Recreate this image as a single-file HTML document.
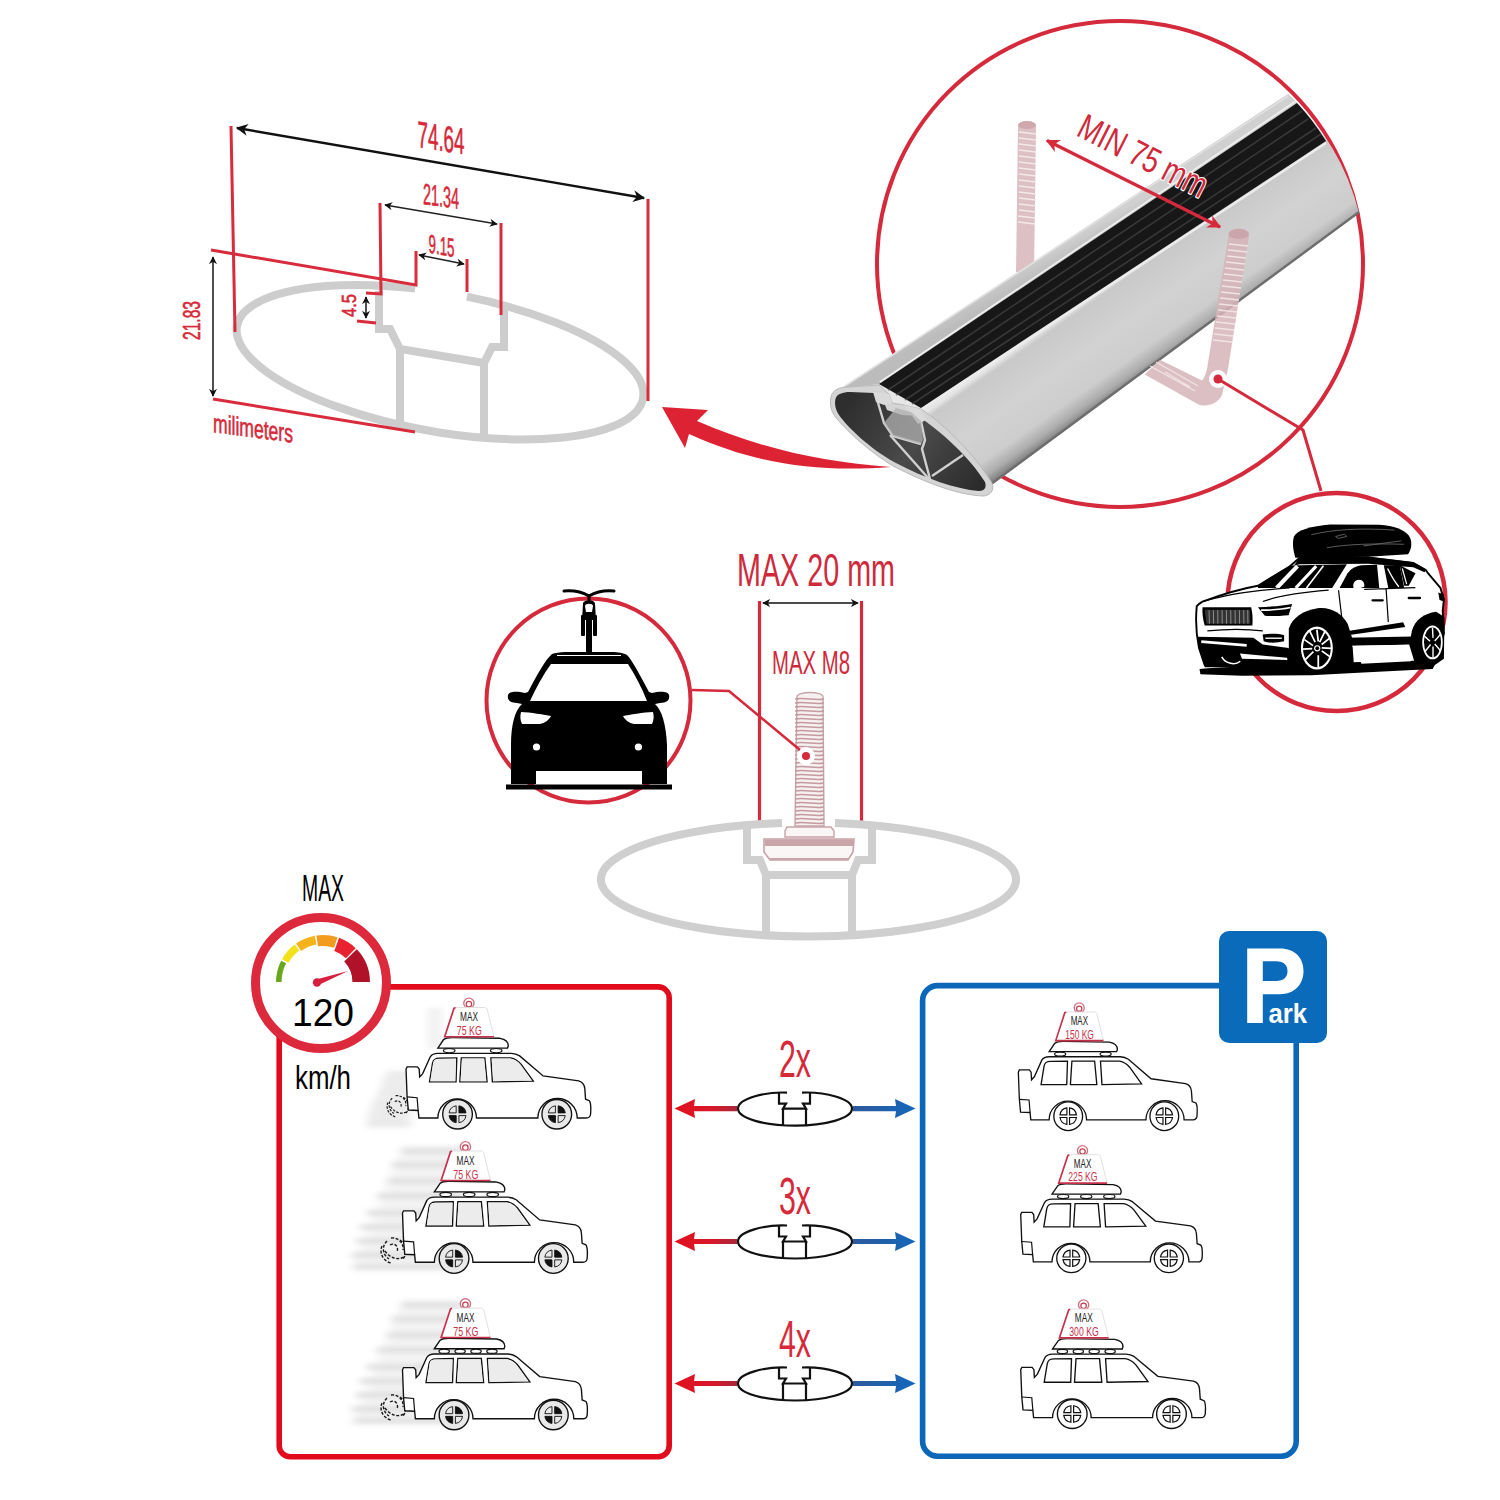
<!DOCTYPE html>
<html><head><meta charset="utf-8">
<style>
html,body{margin:0;padding:0;background:#fff;width:1500px;height:1500px;overflow:hidden}
svg{display:block}
text{font-family:"Liberation Sans",sans-serif}
</style></head>
<body>
<svg width="1500" height="1500" viewBox="0 0 1500 1500">
<defs>
  <marker id="ah" viewBox="0 0 10 10" refX="9" refY="5" markerWidth="5" markerHeight="5" orient="auto-start-reverse">
    <path d="M0,0 L10,5 L0,10 L3,5 z" fill="#111"/>
  </marker>
  <marker id="ahr" viewBox="0 0 10 10" refX="9" refY="5" markerWidth="4" markerHeight="4" orient="auto-start-reverse">
    <path d="M0,0 L10,5 L0,10 L3,5 z" fill="#d62a3a"/>
  </marker>
</defs>
<rect width="1500" height="1500" fill="#fff"/>

<!-- ============ TOP-LEFT CROSS SECTION ============ -->
<g id="xsec">
  <!-- gray profile -->
  <g fill="none" stroke="#cdcdcd" stroke-width="8" stroke-linejoin="miter">
    <path d="M466.9,296.7 A206.2,69.4 10.05 1 1 415.1,288.5"/>
    <path d="M379,291 L379,329 L390,329 L400,349 L484,363 L492,347 L504,347 L504,306"/>
    <path d="M400,349 L400,426 M484,363 L484,439"/>
  </g>
  <!-- red dimension lines -->
  <g fill="none" stroke="#d82c3c" stroke-width="3">
    <path d="M231,126 L235,332"/>
    <path d="M648,199 L648,401"/>
    <path d="M380,203 L381,294 L366,293"/>
    <path d="M501,223 L501,315"/>
    <path d="M211,250 L416,285 L416,251"/>
    <path d="M467,259 L467,292"/>
    <path d="M213,399 L415,432"/>
    <path d="M357,321 L376,323"/>
  </g>
  <g fill="none" stroke="#111" stroke-width="2.4">
    <path d="M237,128 L644,198" marker-start="url(#ah)" marker-end="url(#ah)"/>
  </g>
  <g fill="none" stroke="#222" stroke-width="1.6">
    <path d="M385,205 L497,224" marker-start="url(#ah)" marker-end="url(#ah)"/>
    <path d="M419,255 L464,264" marker-start="url(#ah)" marker-end="url(#ah)"/>
    <path d="M213,257 L213,396" marker-start="url(#ah)" marker-end="url(#ah)"/>
    <path d="M366,297 L366,318" marker-start="url(#ah)" marker-end="url(#ah)"/>
  </g>
  <g fill="#d62a3a" font-size="38" stroke="#d62a3a" stroke-width="0.6">
    <text x="0" y="0" transform="translate(417.5,147) skewY(9)" textLength="47" lengthAdjust="spacingAndGlyphs" font-size="37">74.64</text>
    <text x="0" y="0" transform="translate(423,204) skewY(7.5)" textLength="36" lengthAdjust="spacingAndGlyphs" font-size="29.5">21.34</text>
    <text x="0" y="0" transform="translate(428.5,252.5) skewY(10)" textLength="26" lengthAdjust="spacingAndGlyphs" font-size="26">9.15</text>
    <text x="0" y="0" transform="translate(200,340) rotate(-90)" textLength="39" lengthAdjust="spacingAndGlyphs" font-size="24">21.83</text>
    <text x="0" y="0" transform="translate(356,317) rotate(-90)" textLength="23" lengthAdjust="spacingAndGlyphs" font-size="20">4.5</text>
    <text x="0" y="0" transform="translate(213,432) skewY(7.5)" textLength="80" lengthAdjust="spacingAndGlyphs" font-size="26">milimeters</text>
  </g>

</g>

<!-- ============ RED CURVED ARROW ============ -->
<path d="M662,407 L708,410 L697,421 C760,448 820,462 891,467 C820,472 760,466 689,434 L685,448 Z" fill="#dd2233"/>

<!-- ============ BIG CIRCLE + BAR ============ -->
<circle cx="1120" cy="264" r="243" fill="none" stroke="#d42a3c" stroke-width="4"/>
<defs>
  <linearGradient id="gSide" gradientUnits="userSpaceOnUse" x1="1100" y1="290" x2="1154" y2="367">
    <stop offset="0" stop-color="#e6e6e6"/>
    <stop offset="0.06" stop-color="#c9c9c9"/>
    <stop offset="0.45" stop-color="#d2d2d2"/>
    <stop offset="0.78" stop-color="#cdcdcd"/>
    <stop offset="0.92" stop-color="#acacac"/>
    <stop offset="1" stop-color="#858585"/>
  </linearGradient>
  <linearGradient id="gTop" gradientUnits="userSpaceOnUse" x1="1060" y1="244" x2="1070" y2="262">
    <stop offset="0" stop-color="#d0d0d0"/>
    <stop offset="0.5" stop-color="#c4c4c4"/>
    <stop offset="1" stop-color="#bcbcbc"/>
  </linearGradient>
  <linearGradient id="gFace" gradientUnits="userSpaceOnUse" x1="850" y1="400" x2="980" y2="490">
    <stop offset="0" stop-color="#2e2e2e"/>
    <stop offset="0.5" stop-color="#4a4a4a"/>
    <stop offset="1" stop-color="#2a2a2a"/>
  </linearGradient>
</defs>
<!-- left U-bolt rod (behind bar) -->
<g id="uboltL">
  <path d="M1018,127 C1018,119 1036,119 1036,127 L1034,272 L1016,272 Z" fill="#dcc0c3"/><ellipse cx="1027" cy="125" rx="9" ry="4" fill="#cfa9ad"/>
  <g stroke="#f4e8e9" stroke-width="1.3">
    <path d="M1019,132 L1036,134 M1019,138 L1036,140 M1019,144 L1036,146 M1019,150 L1036,152 M1019,156 L1036,158 M1019,162 L1036,164 M1019,168 L1036,170 M1019,174 L1036,176 M1019,180 L1036,182 M1019,186 L1036,188 M1019,192 L1036,194 M1019,198 L1036,200 M1019,204 L1036,206 M1019,210 L1036,212 M1018,216 L1035,218 M1018,222 L1035,224"/>
  </g>
</g>
<!-- bar body -->
<path d="M842,388 L1288,94 A242,242 0 0 1 1359,213 L985,490 Z" fill="url(#gSide)"/>
<path d="M842,388 L1288,94 A242,242 0 0 1 1297,103 L879,384 Z" fill="url(#gTop)"/>
<path d="M879,384 L1297,103 A242,242 0 0 1 1326,141 L921,408 Z" fill="#171717"/>
<g stroke="#4a4a4a" stroke-width="1.6" fill="none" opacity="0.65">
  <path d="M888,390 L1302,111"/>
  <path d="M896,395 L1308,119"/>
  <path d="M905,400 L1316,128"/>
  <path d="M912,404 L1321,134"/>
</g>
<path d="M880,382 L1296,101" stroke="#efefef" stroke-width="1.6"/>
<path d="M921,410 L1326,143" stroke="#ececec" stroke-width="2.4"/>
<path d="M845,386 L1288,96" stroke="#e2e2e2" stroke-width="1.5"/>
<path d="M987,487 L1359,212" stroke="#6e6e6e" stroke-width="2.4"/>
<!-- end face -->
<path d="M831,397 C832,390 840,387 848,387 L879,385 L889,394 L892,403 L904,405 L921,409 C945,425 975,455 992,483 C995,490 990,496 983,496 C960,495 930,485 893,466 C870,452 845,430 834,415 C830,408 830,402 831,397 Z" fill="#d4d4d4" stroke="#b8b8b8" stroke-width="1"/>
<path d="M835.5,399 C836.5,394 843,392 850,392 L874,393 L883,400 L887,410 L902,415 L918,416 C942,432 970,458 985,482 C987,488 984,491 979,491 C956,489 926,479 894,462 C871,449 849,429 839,415 C835,409 834.5,403 835.5,399 Z" fill="url(#gFace)"/>
<g stroke="#d0d0d0" stroke-width="2.4" fill="none" stroke-linejoin="round">
  <path d="M876,396 L884,423 L893,436 L921,444"/>
  <path d="M921,421 L925,440 L922,449 L930,479"/>
  <path d="M890,435 L929,479"/>
  <path d="M932,476 L963,455"/>
</g>
<path d="M873,392 L889,394 L892,403 L884,405 L876,402 Z" fill="#dadada"/>
<path d="M904,405 L921,409 L926,420 L918,424 Z" fill="#dadada"/>
<path d="M884,423 L893,436 L921,444 L923,440 L921,421 L911,412 L896,408 Z" fill="#b0b0b0" opacity="0.75"/>
<!-- right U-bolt rod (in front) -->
<g id="uboltR">
  <path d="M1249,236 C1249,226 1228.5,226 1228.5,236 L1207,369 C1206,374 1204,378 1202,380.6 L1160,359.8 L1144.7,374.5 L1197.6,404 C1205,408 1218,404 1222,395 L1228,369 Z" fill="#d6b4b8" opacity="0.85"/>
  <ellipse cx="1238.7" cy="234" rx="10.2" ry="5" fill="#c9a3a7" opacity="0.9"/>
  <g stroke="#f4e8e9" stroke-width="1.3" opacity="0.9">
    <path d="M1229,244 L1248,246 M1228,250 L1247,252 M1227,256 L1246,258 M1226,262 L1245,264 M1225,268 L1244,270 M1224,274 L1243,276 M1223,280 L1242,282 M1222,286 L1241,288 M1221,292 L1240,294 M1220,298 L1239,300 M1219,304 L1238,306 M1218,310 L1237,312 M1217,316 L1236,318 M1216,322 L1235,324 M1215,328 L1234,330 M1214,334 L1233,336 M1213,340 L1232,342"/>
    <path d="M1150,366 L1195,391 M1156,362 L1198,386 M1165,372 L1190,387"/>
  </g>
</g>
<!-- dot -->
<circle cx="1218" cy="379" r="9" fill="#fff"/>
<circle cx="1218" cy="379" r="4.5" fill="#d42a3c"/>
<!-- MIN 75 mm -->
<path d="M1047,140.5 L1220,227" stroke="#d42a3c" stroke-width="3.4" marker-start="url(#ahr)" marker-end="url(#ahr)"/>
<text x="0" y="0" transform="translate(1075,135) rotate(27)" font-size="36" fill="#cf2a3b" stroke="#fff" stroke-width="2.5" paint-order="stroke" stroke-linejoin="round" textLength="140" lengthAdjust="spacingAndGlyphs">MIN 75 mm</text>

<!-- ============ SMALL SUV CIRCLE ============ -->
<path d="M1218,379 L1303,430 L1321,491" fill="none" stroke="#d42a3c" stroke-width="3"/>
<circle cx="1336.5" cy="602" r="109" fill="none" stroke="#d42a3c" stroke-width="4.5"/>
<g id="suv" transform="translate(1190,520) scale(0.17333)">
  <!-- body white with outline -->
  <path d="M39,497 C33,560 33,650 52,739 L85,837 L634,850 L1354,837 L1419,817 L1465,654 L1458,523 L1465,458 L1445,392 L1373,307 L1360,288 L1288,248 L1027,216 L634,216 L575,268 L392,379 C300,395 196,425 72,471 C55,480 45,490 39,497 Z" fill="#fff" stroke="#000" stroke-width="11"/>
  <!-- shadow -->
  <path d="M55,860 C250,845 500,835 700,830 L1100,815 L1380,810 L1440,780 L1400,860 L1000,880 L700,895 L300,898 L60,890 Z" fill="#000"/>
  <!-- roof box -->
  <path d="M608,218 C596,180 588,130 600,95 C618,58 700,35 808,26 L1092,28 C1180,33 1232,55 1262,90 C1286,122 1278,170 1258,198 L1027,212 L634,218 Z" fill="#000"/>
  <path d="M700,85 C820,55 980,45 1180,58 M790,160 C900,140 1050,135 1235,140 M840,95 L890,82 L905,95 L855,106 Z M1000,150 L1220,120" fill="none" stroke="#6a6a6a" stroke-width="5"/>
  <!-- rails band -->
  <path d="M600,262 L634,214 L1027,212 L1288,244 L1362,286 L1353,302 L1288,272 L1027,252 L634,256 Z" fill="#000"/>
  <!-- windshield -->
  <path d="M392,379 L432,353 L575,262 L905,255 L820,392 L392,392 Z" fill="#000"/>
  <path d="M500,392 L620,266" stroke="#fff" stroke-width="24"/>
  <path d="M610,392 L728,266" stroke="#fff" stroke-width="18"/>
  <path d="M672,392 L770,264" stroke="#fff" stroke-width="9"/>
  <!-- side windows -->
  <path d="M863,392 L909,307 C930,280 955,265 988,261 L1079,258 L1092,392 Z" fill="#000"/>
  <path d="M945,395 C935,370 950,345 975,345 C998,345 1010,365 1005,385 L960,400 L942,425 L930,420 Z" fill="#fff"/>
  <path d="M1118,261 L1210,261 L1236,392 L1144,392 Z" fill="#000"/>
  <path d="M1140,280 C1160,320 1175,350 1205,385" stroke="#fff" stroke-width="8" fill="none"/>
  <path d="M1210,261 L1301,307 L1262,379 L1236,379 Z" fill="#000"/>
  <path d="M1225,280 L1250,370" stroke="#fff" stroke-width="7"/>
  <!-- door lines / handles -->
  <path d="M857,405 L883,627 M1131,392 L1144,588 M1005,400 L1300,390" stroke="#000" stroke-width="7" fill="none"/>
  <path d="M1053,463 L1112,463 M1262,450 L1327,450" stroke="#000" stroke-width="13" stroke-linecap="round"/>
  <path d="M1432,418 L1465,430 L1465,470 L1440,462 Z" fill="#000"/>
  <!-- grille -->
  <path d="M72,504 L353,504 C362,540 362,580 360,608 L85,608 C75,580 70,540 72,504 Z" fill="#000"/>
  <path d="M85,518 L345,518 L348,598 L95,598 Z" fill="#333"/>
  <g stroke="#9a9a9a" stroke-width="5">
    <path d="M110,520 L112,598 M135,520 L136,598 M160,520 L161,598 M185,520 L186,598 M210,520 L211,598 M235,520 L236,598 M260,520 L261,598 M285,520 L286,598 M310,520 L311,598 M333,520 L334,598"/>
  </g>
  <!-- headlight -->
  <path d="M392,504 C460,500 540,494 589,484 L569,549 C520,553 470,556 432,553 Z" fill="#000"/>
  <path d="M410,520 C480,520 540,514 580,505" stroke="#fff" stroke-width="9" fill="none"/>
  <!-- hood lines -->
  <path d="M72,471 C200,430 380,405 575,392 M420,470 C500,440 620,420 800,405 M100,640 C200,630 320,628 420,640" stroke="#000" stroke-width="7" fill="none"/>
  <!-- fog light -->
  <path d="M419,661 C460,655 510,655 543,665 L543,700 C500,710 450,710 425,700 Z" fill="#000"/>
  <path d="M435,682 L530,682" stroke="#fff" stroke-width="8"/>
  <!-- lower front black -->
  <path d="M39,674 L366,680 L419,719 L569,739 L600,850 L85,850 L52,739 Z" fill="#000"/>
  <path d="M65,702 L327,724" stroke="#fff" stroke-width="16"/>
  <path d="M288,770 L560,795 L562,808 L300,800 Z" fill="#fff"/>
  <path d="M183,790 C205,830 260,840 290,815" stroke="#fff" stroke-width="9" fill="none"/>
  <!-- front wheel arch + wheel -->
  <path d="M570,628 C590,560 654,523 730,510 C808,497 880,540 910,600 L935,680 L945,830 L880,880 L620,885 L570,800 Z" fill="#000"/>
  <ellipse cx="732" cy="739" rx="92" ry="124" fill="#fff"/>
  <ellipse cx="732" cy="739" rx="80" ry="110" fill="#000"/>
  <g stroke="#fff" stroke-width="10">
    <path d="M732,632 L740,700 M660,690 L710,725 M665,805 L712,760 M740,848 L740,780 M810,790 L760,755 M808,680 L760,718 M690,640 L722,705 M780,640 L748,705 M650,745 L705,742 M820,740 L760,738"/>
  </g>
  <circle cx="734" cy="740" r="18" fill="#fff"/><circle cx="734" cy="740" r="11" fill="#000"/>
  <!-- side skirt / underbody -->
  <path d="M912,640 L1230,590 L1242,618 L930,662 Z" fill="#000"/>
  <path d="M896,680 L1288,672 L1288,719 L896,727 Z" fill="#000"/>
  <path d="M935,725 L1275,720 L1275,815 L990,830 Z" fill="#fff"/>
  <!-- rear wheel -->
  <path d="M1280,640 C1300,575 1350,540 1420,530 L1468,560 L1465,800 L1400,845 L1300,835 L1265,720 Z" fill="#000"/>
  <ellipse cx="1399" cy="706" rx="59" ry="98" fill="#fff"/>
  <ellipse cx="1399" cy="706" rx="49" ry="86" fill="#000"/>
  <g stroke="#fff" stroke-width="8">
    <path d="M1399,622 L1402,680 M1352,670 L1385,700 M1355,760 L1388,718 M1402,790 L1402,730 M1446,755 L1412,715 M1445,660 L1412,698"/>
  </g>
</g>


<!-- ============ MIDDLE: BOLT ============ -->
<g id="mid">
  <g fill="#cf2a3b">
    <text x="737" y="586" font-size="46" textLength="158" lengthAdjust="spacingAndGlyphs">MAX 20 mm</text>
    <text x="772" y="674" font-size="34" textLength="78" lengthAdjust="spacingAndGlyphs">MAX M8</text>
  </g>
  <g stroke="#d42a3c" stroke-width="3.2">
    <path d="M759.5,601 L759.5,827 M861.5,601 L861.5,827"/>
  </g>
  <path d="M763,603 L858,603" stroke="#111" stroke-width="1.6" marker-start="url(#ah)" marker-end="url(#ah)"/>
  <!-- ellipse -->
  <g fill="none" stroke="#cfcfcf" stroke-width="8">
    <path d="M835,823 A207.5,57 0 1 1 782,823"/>
    <path d="M747,826 L747,860 L760,860 L766,875 L852,875 L858,860 L872,860 L872,826"/>
    <path d="M766,875 L766,936 M852,875 L852,936"/>
  </g>
  <!-- bolt -->
  <g id="bolt">
    <path d="M797,697 C797,691 823,691 823,697 L824,826 L795,826 Z" fill="#f7f0f0" stroke="#c8a2a6" stroke-width="1.4"/>
    <g stroke="#c29a9f" stroke-width="1.3" fill="none">
      <path id="thr" d="M795,699 C805,697 815,701 824,699"/>
      <use href="#thr" y="4"/><use href="#thr" y="8"/><use href="#thr" y="12"/><use href="#thr" y="16"/><use href="#thr" y="20"/><use href="#thr" y="24"/><use href="#thr" y="28"/><use href="#thr" y="32"/><use href="#thr" y="36"/><use href="#thr" y="40"/><use href="#thr" y="44"/><use href="#thr" y="48"/><use href="#thr" y="52"/><use href="#thr" y="56"/><use href="#thr" y="60"/><use href="#thr" y="64"/><use href="#thr" y="68"/><use href="#thr" y="72"/><use href="#thr" y="76"/><use href="#thr" y="80"/><use href="#thr" y="84"/><use href="#thr" y="88"/><use href="#thr" y="92"/><use href="#thr" y="96"/><use href="#thr" y="100"/><use href="#thr" y="104"/><use href="#thr" y="108"/><use href="#thr" y="112"/><use href="#thr" y="116"/><use href="#thr" y="120"/><use href="#thr" y="124"/>
    </g>
    <path d="M787,827 L831,827 L834,831 L834,837 L785,837 L785,831 Z" fill="#fbf6f6" stroke="#c8a2a6" stroke-width="1.4"/>
    <path d="M764,839 L854,839 L853,852 L848,860 L770,860 L764,852 Z" fill="#fbf6f6" stroke="#c8a2a6" stroke-width="1.6"/>
    <rect x="765" y="839.5" width="88" height="6.5" fill="#c9a4a8"/>
    <path d="M770,859 L848,859" stroke="#c9a5a8" stroke-width="2" fill="none"/>
    <circle cx="806" cy="756" r="9" fill="#fff"/>
    <circle cx="806" cy="756" r="4" fill="#d42a3c"/>
  </g>
</g>

<!-- ============ LEFT SMALL CIRCLE: FRONT CAR ============ -->
<circle cx="588.5" cy="700.5" r="102" fill="none" stroke="#d42a3c" stroke-width="4"/>
<path d="M692,690 L729,691 L800,750" fill="none" stroke="#d42a3c" stroke-width="2.5"/>
<g id="frontcar">
  <!-- bike -->
  <path d="M564,591 C575,590 582,592 589,596 C596,592 603,590 614,591" fill="none" stroke="#000" stroke-width="3" stroke-linecap="round"/>
  <path d="M589,596 L589,602" stroke="#000" stroke-width="3"/>
  <path d="M583,604 C583,599 595,599 595,604 L596,620 L582,620 Z" fill="#000"/>
  <path d="M585,606 C585,603 593,603 593,606 L592,612 L586,612 Z" fill="#fff"/>
  <rect x="581" y="615" width="4" height="21" rx="1" fill="#000"/>
  <rect x="593" y="615" width="4" height="21" rx="1" fill="#000"/>
  <rect x="586" y="614" width="6" height="40" rx="3" fill="#000"/>
  <!-- car -->
  <path d="M552,654 C555,653 560,652 565,652 L612,652 C618,652 624,653 627,655 C632,660 640,675 649,692 L652,693 C660,691 668,691 669,695 C670,700 667,703 660,703 L655,704 C662,710 666,725 667,745 L667,784 L642,784 L642,771 L536,771 L536,784 L511,784 L511,745 C511,725 515,710 522,704 L517,703 C510,703 507,700 508,695 C509,691 517,691 525,693 L528,692 C537,675 545,660 552,654 Z" fill="#000"/>
  <path d="M551,664 L628,664 C635,675 642,688 647,701 L530,701 C536,688 543,675 551,664 Z" fill="#fff"/>
  <path d="M521,712 C530,712 545,715 551,716 C549,720 545,723 540,724 L522,724 C520,720 520,716 521,712 Z" fill="#fff"/>
  <path d="M653,712 C644,712 629,715 623,716 C625,720 629,723 634,724 L652,724 C654,720 654,716 653,712 Z" fill="#fff"/>
  <circle cx="536.5" cy="747" r="3.6" fill="#fff"/>
  <circle cx="638.4" cy="747" r="3.6" fill="#fff"/>
  <rect x="506" y="784.5" width="166" height="5" fill="#000"/>
  <path d="M557,655.5 L621,655.5" stroke="#fff" stroke-width="1.2"/>
</g>

<!-- ============ BOTTOM BOXES ============ -->
<rect x="279.2" y="986.9" width="390" height="469.9" rx="11" fill="none" stroke="#e10b1b" stroke-width="5.6"/>
<rect x="922.6" y="985.6" width="373.6" height="470.6" rx="15" fill="none" stroke="#0d67b8" stroke-width="5.6"/>
<!-- P sign -->
<rect x="1219" y="931" width="108" height="112" rx="10" fill="#0b6bbb"/>

<!-- speedometer -->
<circle cx="321" cy="983" r="65.5" fill="#fff" stroke="#dc2a3c" stroke-width="9"/>
<g id="gauge">
  <path d="M278.8,982.0 A44.2,44.2 0 0 1 283.6,961.9" fill="none" stroke="#68a81f" stroke-width="5.5"/>
  <path d="M285.2,961.0 A43.2,43.2 0 0 1 297.0,947.5" fill="none" stroke="#f3e21b" stroke-width="7.5"/>
  <path d="M298.6,947.2 A42.5,42.5 0 0 1 315.6,940.1" fill="none" stroke="#f6b31b" stroke-width="9.0"/>
  <path d="M317.2,940.9 A41.5,41.5 0 0 1 335.8,942.5" fill="none" stroke="#f39b1f" stroke-width="11.0"/>
  <path d="M336.7,944.4 A40.0,40.0 0 0 1 350.8,953.2" fill="none" stroke="#e8232f" stroke-width="14.0"/>
  <path d="M350.5,955.4 A38.2,38.2 0 0 1 361.2,982.0" fill="none" stroke="#b0122a" stroke-width="17.5"/>
  <path d="M316,979.5 L348,971 L317.5,985.5 Z" fill="#d81f3f"/>
  <circle cx="317" cy="982.5" r="4.2" fill="#d81f3f"/>
</g>
<text x="292" y="1026" font-size="39" fill="#000" textLength="62" lengthAdjust="spacingAndGlyphs">120</text>
<text x="302" y="901" font-size="36" fill="#000" textLength="42" lengthAdjust="spacingAndGlyphs">MAX</text>
<text x="295" y="1089" font-size="34" fill="#000" textLength="56" lengthAdjust="spacingAndGlyphs">km/h</text>

<!-- P sign text -->
<path d="M1247.2,948.6 L1280,948.6 C1295,948.6 1303.5,958 1303.5,971 C1303.5,985 1294,994.2 1280,994.2 L1262.8,994.2 L1262.8,1023 L1247.2,1023 Z M1262.8,961.2 L1276,961.2 C1284,961.2 1287.5,965 1287.5,971 C1287.5,977 1284,981 1276,981 L1262.8,981 Z" fill="#fff" fill-rule="evenodd"/>
<text x="1268.5" y="1023" font-size="28" font-weight="bold" fill="#fff" textLength="38.5" lengthAdjust="spacingAndGlyphs">ark</text>

<!-- ============ ARROWS & PROFILES ============ -->
<defs>
  <linearGradient id="gRedA" x1="0" y1="0" x2="1" y2="0">
    <stop offset="0" stop-color="#e1101e"/><stop offset="0.6" stop-color="#d8182a"/><stop offset="1" stop-color="#a8283a"/>
  </linearGradient>
  <linearGradient id="gBlueA" x1="0" y1="0" x2="1" y2="0">
    <stop offset="0" stop-color="#2e5a9c"/><stop offset="1" stop-color="#1367bb"/>
  </linearGradient>
  <g id="profile">
    <!-- local: center 0,0 -->
    <path d="M-8,-16 C-30,-17 -57,-10 -57,0 C-57,10 -30,17 0,17 C30,17 57,10 57,0 C57,-10 30,-17 7,-16" fill="none" stroke="#111" stroke-width="2.2"/>
    <path d="M-16,-16 L-16,-5 L-9,-5 L-12,0 L11,0 L8,-5 L15,-5 L15,-16" fill="none" stroke="#111" stroke-width="2.2" stroke-linejoin="miter"/>
    <path d="M-12,0 L-12,17 M11,0 L11,17" fill="none" stroke="#111" stroke-width="2.2"/>
    <path d="M-58,-2.6 L-101,-2.6 L-100,-9.5 L-120.5,0 L-100,9.5 L-101,2.6 L-58,2.6 Z" fill="url(#gRedA)"/>
    <path d="M58,-2.6 L101,-2.6 L100,-9.5 L120.5,0 L100,9.5 L101,2.6 L58,2.6 Z" fill="url(#gBlueA)"/>
  </g>
</defs>
<use href="#profile" x="0" y="0" transform="translate(795,1108.6)"/>
<use href="#profile" x="0" y="0" transform="translate(795,1241.5)"/>
<use href="#profile" x="0" y="0" transform="translate(795,1383.5)"/>
<g fill="#d62a3a" font-size="52">
  <text x="779" y="1077" textLength="32" lengthAdjust="spacingAndGlyphs">2x</text>
  <text x="779" y="1213.5" textLength="32" lengthAdjust="spacingAndGlyphs">3x</text>
  <text x="779" y="1357" textLength="32" lengthAdjust="spacingAndGlyphs">4x</text>
</g>

<!-- ============ CARS ============ -->
<defs>
  <filter id="blur3" x="-50%" y="-50%" width="200%" height="200%"><feGaussianBlur stdDeviation="3"/></filter>
  <g id="smk" fill="none" stroke="#222" stroke-width="1.3" stroke-dasharray="2.5,1.8"><circle cx="0" cy="0" r="6"/><circle cx="5" cy="5" r="5"/><circle cx="-3" cy="7" r="4"/><path d="M-9,-4 C-12,2 -10,8 -6,12 M8,-3 C12,2 12,8 9,12"/></g>
  <g id="carbody">
    <path d="M335,885 L210,885 L205,835 L140,832 L132,745 L125,560 L132,545 L200,545 L212,560 L215,612 L235,590 L285,478 C295,462 310,455 335,455 L820,455 C845,456 860,462 875,472 L1030,605 L1265,638 C1290,645 1302,660 1305,690 L1310,760 L1335,770 C1345,785 1347,810 1343,860 C1340,878 1330,885 1315,885 L1255,885 A127,127 0 0 0 995,885 L590,885 A127,127 0 0 0 335,885 Z" fill="#fff" stroke="#111" stroke-width="9"/>
    <path d="M132,745 L198,750 L205,835" fill="none" stroke="#111" stroke-width="8"/>
    <g fill="none" stroke="#111" stroke-width="9">
      <path d="M280,645 L300,520 C305,495 315,487 345,487 L460,485 L455,645 Z"/>
      <path d="M480,645 L490,485 L645,485 L660,645 Z"/>
      <path d="M695,645 L685,485 L815,485 C845,490 870,510 885,528 L965,640 Z"/>
    </g>
  </g>
  <g id="wheel">
    <circle r="98" fill="#fff" stroke="#111" stroke-width="9"/>
    <g fill="none" stroke="#111" stroke-width="8">
      <path d="M-9,-9 L-9,-56 A56,56 0 0 0 -56,-9 Z"/>
      <path d="M9,-9 L9,-56 A56,56 0 0 1 56,-9 Z"/>
      <path d="M-9,9 L-9,56 A56,56 0 0 1 -56,9 Z"/>
      <path d="M9,9 L9,56 A56,56 0 0 0 56,9 Z"/>
    </g>
  </g>
  <g id="wheelL">
    <circle r="98" fill="#e9e9e9" stroke="#111" stroke-width="9"/>
    <g fill="#111" stroke="#111" stroke-width="6">
      <path d="M-9,-9 L-9,-56 A56,56 0 0 0 -56,-9 Z" fill="none"/>
      <path d="M9,-9 L9,-56 A56,56 0 0 1 56,-9 Z"/>
      <path d="M-9,9 L-9,56 A56,56 0 0 1 -56,9 Z"/>
      <path d="M9,9 L9,56 A56,56 0 0 0 56,9 Z" fill="none"/>
    </g>
  </g>
  <g id="roofbox2">
    <path d="M335,420 L372,365 C385,352 400,350 430,350 L745,355 C785,362 800,385 800,405 L795,420 Z" fill="#fff" stroke="#111" stroke-width="9"/>
  </g>
  <g id="weight">
    <circle cx="540" cy="122" r="34" fill="#fff" stroke="#d07080" stroke-width="9"/>
    <circle cx="540" cy="128" r="18" fill="none" stroke="#c04050" stroke-width="8"/>
    <path d="M380,345 L435,160 C440,152 445,150 455,150 L640,150 C650,150 655,152 660,160 L705,345 Z" fill="#fff" stroke="#ddd" stroke-width="6"/>
    <path d="M452,152 L442,155 L380,345 L705,345" fill="none" stroke="#c8304a" stroke-width="11"/>
  </g>
</defs>

<!-- streaks (left cars) -->
<defs>
  <filter id="blurH" x="-30%" y="-50%" width="160%" height="200%"><feGaussianBlur stdDeviation="4,2.6"/></filter>
  <g id="streakL2">
    <path d="M50,-2 L110,-2 L110,122 L0,122 Z" fill="#f0f0f0"/>
    <g fill="#d6d6d6">
      <rect x="50" y="0" width="60" height="6"/>
      <rect x="40" y="14" width="70" height="6"/>
      <rect x="35" y="30" width="75" height="6"/>
      <rect x="25" y="45" width="85" height="6"/>
      <rect x="15" y="62" width="95" height="6"/>
      <rect x="8" y="76" width="100" height="6"/>
      <rect x="4" y="90" width="100" height="6"/>
      <rect x="0" y="104" width="100" height="6"/>
      <rect x="2" y="116" width="100" height="6"/>
    </g>
  </g>
  <g id="smk2" fill="none" stroke="#1a1a1a" stroke-width="1.4" stroke-dasharray="3,1.6">
    <path d="M-8,-8 C-14,-2 -12,6 -6,10 M-4,-11 C3,-12 9,-6 8,1 M-10,2 C-6,8 2,12 9,8 M-5,-4 C0,-7 4,-2 2,3 M-13,-3 C-16,4 -12,12 -4,14 M5,-9 C12,-5 13,4 8,10"/>
  </g>
</defs>
<g filter="url(#blurH)" opacity="0.75">
  <use href="#streakL2" transform="translate(366,1072) scale(0.42,0.45)"/>
  <rect x="428" y="1008" width="14" height="40" fill="#ececec"/>
  <use href="#streakL2" transform="translate(352,1148)"/>
  <use href="#streakL2" transform="translate(352,1302)"/>
</g>
<use href="#smk2" transform="translate(399,1105) scale(0.85)"/>
<use href="#smk2" transform="translate(395,1249)"/>
<use href="#smk2" transform="translate(395,1406)"/>
<!-- car instances -->
<g id="L1" transform="translate(387.1,984.9) scale(0.1515,0.1504)">
  <use href="#carbody"/><g fill="#ececec"><path d="M285,640 L303,522 C308,499 317,492 345,492 L455,490 L450,640 Z"/><path d="M485,640 L494,490 L640,490 L655,640 Z"/><path d="M700,640 L690,490 L812,490 C840,495 865,513 880,531 L955,635 Z"/></g><use href="#wheelL" transform="translate(465,860)"/><use href="#wheelL" transform="translate(1120,860)"/>
  <use href="#roofbox2"/>
  <g fill="#fff" stroke="#111" stroke-width="8"><ellipse cx="410" cy="437" rx="38" ry="14"/><ellipse cx="720" cy="437" rx="38" ry="14"/></g>
  <use href="#weight"/><text x="482" y="240" font-size="82" fill="#222" textLength="118" lengthAdjust="spacingAndGlyphs">MAX</text><text x="460" y="333" font-size="90" fill="#c8304a" textLength="165" lengthAdjust="spacingAndGlyphs">75 KG</text>
</g>
<g id="L2" transform="translate(383.55,1128.3) scale(0.1516,0.1514)">
  <use href="#carbody"/><g fill="#ececec"><path d="M285,640 L303,522 C308,499 317,492 345,492 L455,490 L450,640 Z"/><path d="M485,640 L494,490 L640,490 L655,640 Z"/><path d="M700,640 L690,490 L812,490 C840,495 865,513 880,531 L955,635 Z"/></g><use href="#wheelL" transform="translate(465,860)"/><use href="#wheelL" transform="translate(1120,860)"/>
  <use href="#roofbox2"/>
  <g fill="#fff" stroke="#111" stroke-width="8"><ellipse cx="410" cy="437" rx="38" ry="14"/><ellipse cx="565" cy="437" rx="38" ry="14"/><ellipse cx="720" cy="437" rx="38" ry="14"/></g>
  <use href="#weight"/><text x="482" y="240" font-size="82" fill="#222" textLength="118" lengthAdjust="spacingAndGlyphs">MAX</text><text x="460" y="333" font-size="90" fill="#c8304a" textLength="165" lengthAdjust="spacingAndGlyphs">75 KG</text>
</g>
<g id="L3" transform="translate(383.55,1285.5) scale(0.1516,0.1506)">
  <use href="#carbody"/><g fill="#ececec"><path d="M285,640 L303,522 C308,499 317,492 345,492 L455,490 L450,640 Z"/><path d="M485,640 L494,490 L640,490 L655,640 Z"/><path d="M700,640 L690,490 L812,490 C840,495 865,513 880,531 L955,635 Z"/></g><use href="#wheelL" transform="translate(465,860)"/><use href="#wheelL" transform="translate(1120,860)"/>
  <use href="#roofbox2"/>
  <g fill="#fff" stroke="#111" stroke-width="8"><ellipse cx="400" cy="437" rx="34" ry="14"/><ellipse cx="505" cy="437" rx="34" ry="14"/><ellipse cx="610" cy="437" rx="34" ry="14"/><ellipse cx="715" cy="437" rx="34" ry="14"/></g>
  <use href="#weight"/><text x="482" y="240" font-size="82" fill="#222" textLength="118" lengthAdjust="spacingAndGlyphs">MAX</text><text x="460" y="333" font-size="90" fill="#c8304a" textLength="165" lengthAdjust="spacingAndGlyphs">75 KG</text>
</g>
<g id="R1" transform="translate(1000,990) scale(0.1467,0.1467)">
  <use href="#carbody"/><use href="#wheel" transform="translate(465,860)"/><use href="#wheel" transform="translate(1120,860)"/>
  <use href="#roofbox2"/>
  <g fill="#fff" stroke="#111" stroke-width="8"><ellipse cx="410" cy="437" rx="38" ry="14"/><ellipse cx="720" cy="437" rx="38" ry="14"/></g>
  <use href="#weight"/><text x="482" y="240" font-size="82" fill="#222" textLength="118" lengthAdjust="spacingAndGlyphs">MAX</text><text x="445" y="333" font-size="90" fill="#c8304a" textLength="195" lengthAdjust="spacingAndGlyphs">150 KG</text>
</g>
<g id="R2" transform="translate(1002.1,1132.8) scale(0.1489,0.1459)">
  <use href="#carbody"/><use href="#wheel" transform="translate(465,860)"/><use href="#wheel" transform="translate(1120,860)"/>
  <use href="#roofbox2"/>
  <g fill="#fff" stroke="#111" stroke-width="8"><ellipse cx="410" cy="437" rx="38" ry="14"/><ellipse cx="565" cy="437" rx="38" ry="14"/><ellipse cx="720" cy="437" rx="38" ry="14"/></g>
  <use href="#weight"/><text x="482" y="240" font-size="82" fill="#222" textLength="118" lengthAdjust="spacingAndGlyphs">MAX</text><text x="445" y="333" font-size="90" fill="#c8304a" textLength="195" lengthAdjust="spacingAndGlyphs">225 KG</text>
</g>
<g id="R3" transform="translate(1001.8,1286.9) scale(0.1515,0.1478)">
  <use href="#carbody"/><use href="#wheel" transform="translate(465,860)"/><use href="#wheel" transform="translate(1120,860)"/>
  <use href="#roofbox2"/>
  <g fill="#fff" stroke="#111" stroke-width="8"><ellipse cx="400" cy="437" rx="34" ry="14"/><ellipse cx="505" cy="437" rx="34" ry="14"/><ellipse cx="610" cy="437" rx="34" ry="14"/><ellipse cx="715" cy="437" rx="34" ry="14"/></g>
  <use href="#weight"/><text x="482" y="240" font-size="82" fill="#222" textLength="118" lengthAdjust="spacingAndGlyphs">MAX</text><text x="445" y="333" font-size="90" fill="#c8304a" textLength="195" lengthAdjust="spacingAndGlyphs">300 KG</text>
</g>

</svg>
</body></html>
